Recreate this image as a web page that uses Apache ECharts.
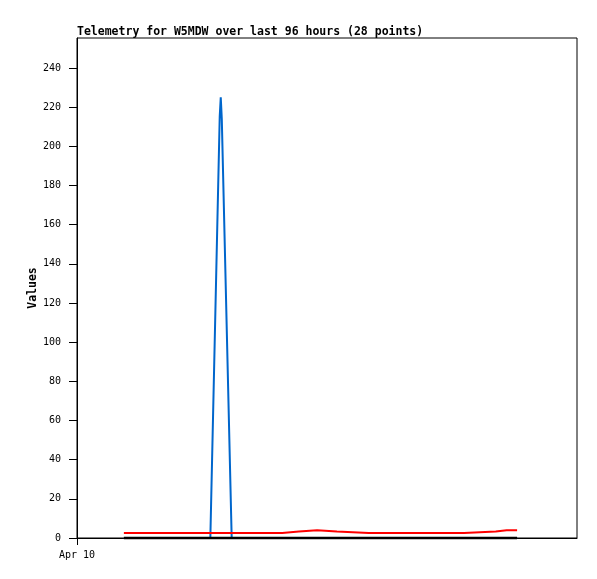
<!DOCTYPE html>
<html>
<head>
<meta charset="utf-8">
<script src="https://cdn.jsdelivr.net/npm/echarts@6/dist/echarts.min.js"></script>
<style>html,body{margin:0;padding:0;background:#fff}#c{width:597px;height:579px}</style>
</head>
<body>
<div id="c"></div>
<script>
// hours since Apr 10 00:00
var hours = [9.0, 12.5, 17.0, 21.5, 25.6, 27.4, 27.6, 27.8, 29.7, 34.0, 39.4, 39.5, 42.6, 42.7,
             46.1, 46.2, 49.9, 50.0, 56.0, 62.0, 67.0, 70.0, 74.3, 74.4, 80.4, 80.5, 82.5, 84.5];
var blueVals = [0, 0, 0, 0, 0, 215, 225, 214, 0, 0, 0, 0, 0, 0,
                0, 0, 0, 0, 0, 0, 0, 0, 0, 0, 0, 0, 0, 0];
var redVals = [2.6, 2.6, 2.6, 2.6, 2.6, 2.6, 2.6, 2.6, 2.6, 2.6, 2.6, 3.3, 3.3, 3.9,
               3.9, 3.3, 3.3, 2.6, 2.6, 2.6, 2.6, 2.6, 2.6, 3.3, 3.3, 3.9, 3.9, 3.9];
var blackVals = [0, 0, 0, 0, 0, 0, 0, 0, 0, 0, 0, 0, 0, 0,
                 0, 0, 0, 0, 0, 0, 0, 0, 0, 0, 0, 0, 0, 0];
var yTicks = [0, 20, 40, 60, 80, 100, 120, 140, 160, 180, 200, 220, 240];
var xTicks = [0];
var xTickLabels = ['Apr 10'];

function pairs(vals) { return hours.map(function (h, i) { return [h, vals[i]]; }); }

var mono = 'DejaVu Sans Mono';
var chart = echarts.init(document.getElementById('c'), null, {renderer: 'canvas'});
chart.setOption({
  animation: false,
  backgroundColor: '#fff',
  title: {
    text: 'Telemetry for W5MDW over last 96 hours (28 points)',
    left: 72, top: 21,
    textStyle: {fontFamily: mono, fontWeight: 'bold', fontSize: 11.5, color: '#000'}
  },
  grid: {left: 77, right: 20, top: 38, bottom: 41, show: true, borderColor: '#000', borderWidth: 1, backgroundColor: 'transparent'},
  xAxis: {
    type: 'value', min: 0, max: 96,
    axisLine: {show: true, onZero: false, lineStyle: {color: '#000', width: 1}},
    axisTick: {show: true, customValues: xTicks, length: 7, lineStyle: {color: '#000'}},
    axisLabel: {show: true, customValues: xTicks, margin: 12, fontFamily: mono, fontSize: 10, color: '#000',
      formatter: function (v) { var i = xTicks.indexOf(v); return i >= 0 ? xTickLabels[i] : ''; }},
    splitLine: {show: false}
  },
  yAxis: {
    type: 'value', min: 0, max: 255.3,
    name: 'Values', nameLocation: 'middle', nameRotate: 90, nameGap: 38, nameMoveOverlap: false,
    nameTextStyle: {fontFamily: mono, fontWeight: 'bold', fontSize: 11.5, color: '#000'},
    axisLine: {show: true, lineStyle: {color: '#000', width: 1}},
    axisTick: {show: true, customValues: yTicks, length: 8, lineStyle: {color: '#000'}},
    axisLabel: {show: true, customValues: yTicks, margin: 16, fontFamily: mono, fontSize: 10, color: '#000'},
    splitLine: {show: false}
  },
  series: [
    {type: 'line', data: pairs(blueVals), showSymbol: false, symbol: 'none', lineStyle: {color: '#0066cc', width: 2}, z: 2},
    {type: 'line', data: pairs(redVals), showSymbol: false, symbol: 'none', lineStyle: {color: '#ff0000', width: 2}, z: 3},
    {type: 'line', data: pairs(blackVals), showSymbol: false, symbol: 'none', clip: false, lineStyle: {color: '#000000', width: 2.5}, z: 4}
  ]
});
</script>
</body>
</html>
